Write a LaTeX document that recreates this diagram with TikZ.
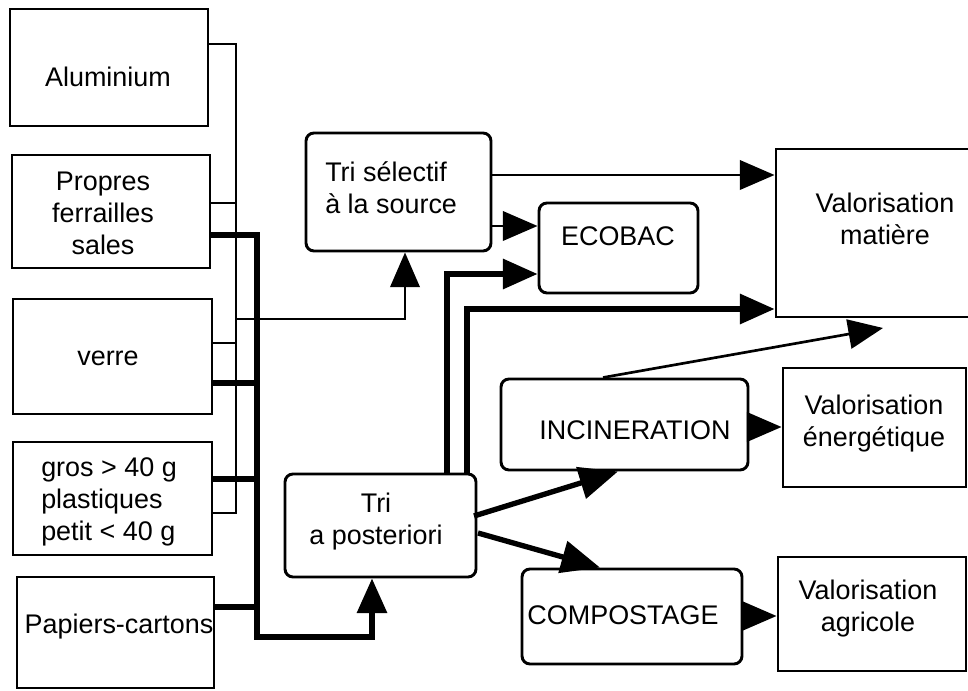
\documentclass[tikz,border=0pt]{standalone}
\usepackage{fontspec}
\setmainfont{Liberation Sans}
\usetikzlibrary{arrows.meta,fit}

\tikzset{
  box/.style={draw, line width=2.2pt, inner sep=0pt},
  rbox/.style={box, rounded corners=6pt},
  lbl/.style={font=\fontsize{20.2}{24}\selectfont, align=center, inner sep=0pt},
  thinw/.style={line width=2pt},
  thickw/.style={line width=4pt},
  tip/.style={-{Triangle[length=26pt,width=22pt]}},
  bigtip/.style={-{Triangle[length=29pt,width=24pt]}}
}

\begin{document}
\begin{tikzpicture}[x=0.75pt,y=-0.75pt]
\useasboundingbox (0,0) rectangle (968,691);

% waste categories (left column)
\node[box, fit={(10,9) (208,126)}] (alu) {};
\node[box, fit={(12,155) (210,268)}] (fer) {};
\node[box, fit={(13,299) (212,414)}] (verre) {};
\node[box, fit={(13,442) (212,555)}] (plast) {};
\node[box, fit={(17,577) (214,688)}] (pap) {};

\node[lbl] (aluT) at (108,77) {Aluminium};
\node[lbl] (ferT) at (103,213) {Propres\\ferrailles\\sales};
\node[lbl] (verreT) at (108,358) {verre};
\node[lbl, align=left, anchor=west] (plastT) at (41,502) {gros > 40 g\\plastiques\\petit < 40 g};
\node[lbl] (papT) at (119,627) {Papiers-cartons};

% sorting stages
\node[rbox, fit={(306,133) (491,251)}] (tsel) {};
\node[lbl, align=left, anchor=west] (tselT) at (325,188) {Tri sélectif\\à la source};
\node[rbox, fit={(285,474) (476,577)}] (tpost) {};
\node[lbl] (tpostT) at (376,522) {Tri\\a posteriori};

% treatments
\node[rbox, fit={(539,203) (698,293)}] (ecobac) {};
\node[lbl] (ecobacT) at (618,236) {ECOBAC};
\node[rbox, fit={(501,379) (748,470)}] (incin) {};
\node[lbl] (incinT) at (635,430) {INCINERATION};
\node[rbox, fit={(522,569) (742,664)}] (compo) {};
\node[lbl] (compoT) at (623,615) {COMPOSTAGE};

% outputs
\node[box, fit={(776,149) (1000,317)}] (vmat) {};
\node[lbl] (vmatT) at (885,219) {Valorisation\\matière};
\node[box, fit={(783,368) (966,487)}] (vener) {};
\node[lbl] (venerT) at (874,424) {Valorisation\\énergétique};
\node[box, fit={(778,557) (966,671)}] (vagri) {};
\node[lbl] (vagriT) at (868,609) {Valorisation\\agricole};

% thin collector (selective sorting)
\coordinate (tA) at (236,44);
\coordinate (tF) at (236,203);
\coordinate (tS) at (236,319);
\coordinate (tV) at (236,343);
\coordinate (tB) at (236,513);
\coordinate (sK) at (405,319);
\draw[thinw] (alu.east |- tA) -- (tA) -- (tB) -- (plast.east |- tB);
\draw[thinw] (fer.east |- tF) -- (tF);
\draw[thinw] (verre.east |- tV) -- (tV);
\draw[thinw, tip] (tS) -- (sK) -- (sK |- tsel.south);

% thick collector (post-sorting)
\coordinate (kF) at (257,235);
\coordinate (kV) at (257,383);
\coordinate (kG) at (257,479);
\coordinate (kC) at (257,607);
\coordinate (kP) at (257,637);
\coordinate (pK) at (372,637);
\draw[thickw] (verre.east |- kV) -- (kV);
\draw[thickw] (plast.east |- kG) -- (kG);
\draw[thickw] (pap.east |- kC) -- (kC);
\draw[thickw, tip] (fer.east |- kF) -- (kF) -- (kP) -- (pK) -- (pK |- tpost.south);

% from selective sorting
\coordinate (s1) at (0,175);
\coordinate (s2) at (0,226);
\draw[thinw, tip] (tsel.east |- s1) -- (vmat.west |- s1);
\draw[thinw, tip] (tsel.east |- s2) -- (ecobac.west |- s2);

% from post-sorting
\coordinate (p1) at (447,274);
\coordinate (p2) at (467,309);
\draw[thickw, tip] (p1 |- tpost.north) -- (p1) -- (ecobac.west |- p1);
\draw[thickw, tip] (p2 |- tpost.north) -- (p2) -- (vmat.west |- p2);
\coordinate (pi0) at (474,516);
\coordinate (pi1) at (618,470);
\coordinate (pc0) at (478,533);
\coordinate (pc1) at (600,569);
\draw[thickw, bigtip] (pi0) -- (pi1 |- incin.south);
\draw[thickw, bigtip] (pc0) -- (pc1 |- compo.north);

% from incineration and composting
\coordinate (i0) at (603,379);
\coordinate (vmE) at (883,328);
\draw[thinw, tip] (i0 |- incin.north) -- (vmE);
\coordinate (i1) at (0,427);
\draw[thinw, tip] (incin.east |- i1) -- (vener.west |- i1);
\coordinate (c1) at (0,616);
\draw[thinw, tip] (compo.east |- c1) -- (vagri.west |- c1);
\end{tikzpicture}
\end{document}
